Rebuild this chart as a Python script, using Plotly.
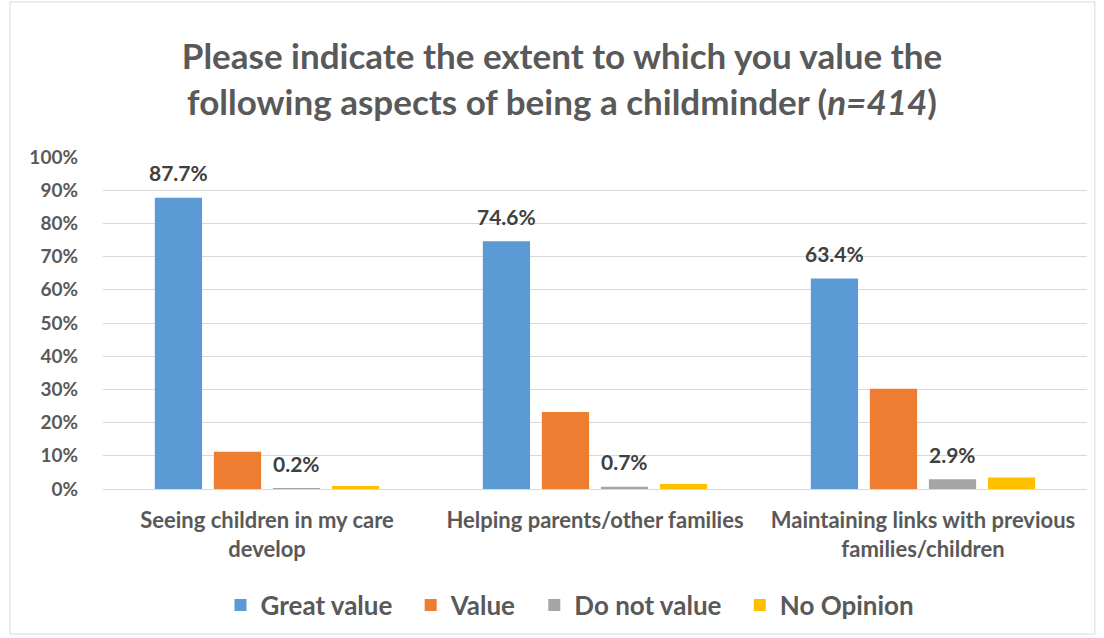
import plotly.graph_objects as go

categories = [
    "Seeing children in my care<br>develop",
    "Helping parents/other families",
    "Maintaining links with previous<br>families/children",
]
great_value = [87.7, 74.6, 63.4]
value = [11.2, 23.2, 30.2]
do_not_value = [0.2, 0.7, 2.9]
no_opinion = [0.9, 1.5, 3.5]

series_names = ["Great value", "Value", "Do not value", "No Opinion"]
series_values = [great_value, value, do_not_value, no_opinion]
series_colors = ["#5B9BD5", "#ED7D31", "#A5A5A5", "#FFC000"]
labelled_series = {"Great value", "Do not value"}

FONT = "Lato, Open Sans, sans-serif"
TEXT_GREY = "#595959"

fig = go.Figure()
for k, (name, vals, col) in enumerate(zip(series_names, series_values, series_colors)):
    pad = "\u00a0\u00a0" if k < len(series_names) - 1 else ""
    fig.add_trace(go.Bar(
        name=f"<b>{name}</b>{pad}", x=categories, y=vals,
        marker=dict(color=col, line=dict(width=0)),
    ))

# value labels sit above the bars of the labelled series
slot_px = 59
for i, (name, vals) in enumerate(zip(series_names, series_values)):
    if name not in labelled_series:
        continue
    for cat, v in zip(categories, vals):
        fig.add_annotation(
            x=cat, y=v, text=f"<b>{v:.1f}%</b>", showarrow=False,
            xshift=(i - 1.5) * slot_px, yshift=25,
            font=dict(family=FONT, size=21, color="#404040"),
        )

# light outer frame of the chart
fig.add_shape(type="rect", xref="paper", yref="paper",
              x0=-0.0945, x1=1.008, y0=-0.437, y1=1.467,
              line=dict(color="#D9D9D9", width=1), layer="below")

fig.update_layout(
    width=1104, height=638,
    paper_bgcolor="white", plot_bgcolor="white",
    margin=dict(l=103, r=17, t=157, b=149),
    barmode="group", bargap=0.28, bargroupgap=0.2,
    title=dict(
        text="<b>Please indicate the extent to which you value the<br>"
             "following aspects of being a childminder (<i>n=414</i>)</b>",
        x=562 / 1104, xanchor="center", xref="container",
        y=1 - 69 / 638, yanchor="middle", yref="container",
        font=dict(family=FONT, size=35, color=TEXT_GREY),
    ),
    yaxis=dict(
        range=[0, 100], dtick=10, ticksuffix="%",
        tickprefix="<b>", showgrid=True, gridcolor="#D9D9D9", gridwidth=1,
        zeroline=False, showline=False, ticks="", ticklen=0,
        ticklabelstandoff=24,
        tickfont=dict(family=FONT, size=19, color=TEXT_GREY),
        fixedrange=True,
    ),
    xaxis=dict(
        showline=True, linecolor="#D9D9D9", linewidth=1,
        ticks="", ticklabelstandoff=12,
        tickfont=dict(family=FONT, size=22, color=TEXT_GREY),
        tickprefix="<b>",
        fixedrange=True,
    ),
    legend=dict(
        orientation="h", x=570 / 1104, xanchor="center", xref="container",
        y=1 - 605 / 638, yanchor="middle", yref="container",
        font=dict(family=FONT, size=26, color=TEXT_GREY),
        itemwidth=30,
    ),
)

fig.write_html("out.html")
